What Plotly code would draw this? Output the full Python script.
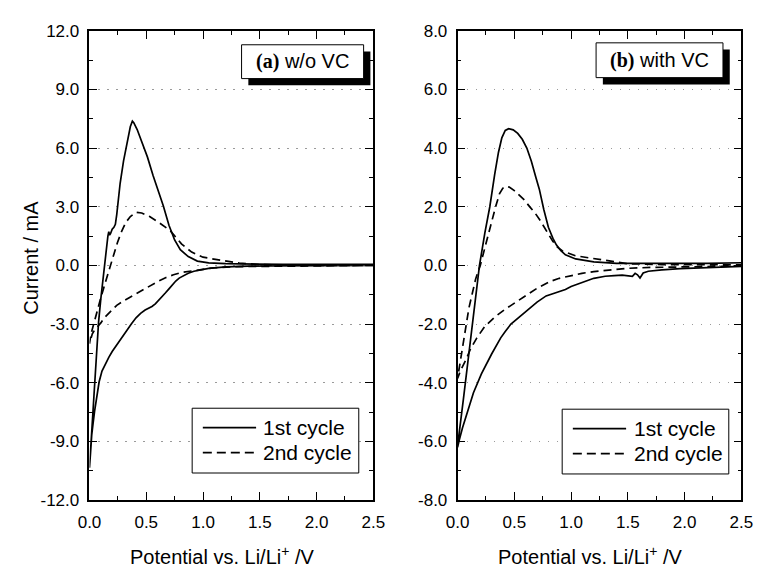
import plotly.graph_objects as go

# ---------------- data ----------------
# Panel (a) w/o VC, 1st cycle: cathodic sweep 2.5 -> 0 V, then anodic 0 -> 2.5 V
A1_CATH_X = [2.5, 2.2, 1.9, 1.6, 1.4, 1.2, 1.05, 0.98, 0.92, 0.87, 0.83, 0.79, 0.76, 0.73, 0.7,
             0.67, 0.64, 0.61, 0.58, 0.55, 0.52, 0.49, 0.45, 0.41, 0.37, 0.33, 0.29, 0.24, 0.2,
             0.17, 0.14, 0.11, 0.085, 0.065, 0.045, 0.03, 0.02, 0.009, 0.002]
A1_CATH_Y = [0.0, 0.0, -0.01, -0.02, -0.04, -0.08, -0.15, -0.22, -0.3, -0.4, -0.52, -0.65, -0.8,
             -0.98, -1.2, -1.4, -1.6, -1.8, -1.97, -2.1, -2.18, -2.28, -2.45, -2.68, -2.98, -3.3,
             -3.62, -4.02, -4.4, -4.7, -5.05, -5.4, -5.95, -6.6, -7.45, -8.15, -8.65, -9.6, -10.35]
A1_AN_X = [0.0, 0.02, 0.04, 0.06, 0.08, 0.1, 0.125, 0.145, 0.162, 0.17, 0.177, 0.185, 0.2, 0.215,
           0.228, 0.24, 0.255, 0.27, 0.3, 0.33, 0.36, 0.378, 0.39, 0.42, 0.46, 0.51, 0.56, 0.6,
           0.65, 0.7, 0.75, 0.8, 0.87, 0.95, 1.05, 1.2, 1.4, 1.7, 2.0, 2.5]
A1_AN_Y = [-10.35, -8.5, -6.6, -4.75, -2.9, -1.7, -0.3, 0.75, 1.5, 1.72, 1.55, 1.62, 1.85, 1.95,
           2.1, 2.6, 3.4, 4.2, 5.35, 6.3, 7.1, 7.38, 7.3, 6.95, 6.3, 5.55, 4.6, 3.95, 3.05, 2.05,
           1.3, 0.8, 0.45, 0.22, 0.13, 0.09, 0.07, 0.05, 0.05, 0.06]

# Panel (a) w/o VC, 2nd cycle
A2_CATH_X = [2.5, 2.0, 1.6, 1.32, 1.1, 0.9, 0.81, 0.74, 0.67, 0.6, 0.53, 0.45, 0.38, 0.31, 0.24,
             0.17, 0.13, 0.1, 0.07, 0.045, 0.025, 0.01, 0.0]
A2_CATH_Y = [0.0, -0.01, -0.03, -0.06, -0.12, -0.26, -0.36, -0.48, -0.63, -0.83, -1.05, -1.3,
             -1.54, -1.78, -2.04, -2.42, -2.68, -2.94, -3.12, -3.3, -3.5, -3.75, -4.0]
A2_AN_X = [0.0, 0.014, 0.04, 0.071, 0.1, 0.128, 0.155, 0.185, 0.215, 0.245, 0.28, 0.32, 0.36, 0.41,
           0.46, 0.53, 0.61, 0.71, 0.77, 0.81, 0.9, 1.0, 1.15, 1.32, 1.5, 1.8, 2.5]
A2_AN_Y = [-4.0, -3.5, -2.9, -2.3, -1.65, -1.1, -0.55, 0.0, 0.6, 1.15, 1.7, 2.2, 2.5, 2.72, 2.68,
           2.5, 2.2, 1.78, 1.38, 1.1, 0.68, 0.42, 0.27, 0.12, 0.04, 0.01, 0.0]

# Panel (b) with VC, 1st cycle
B1_CATH_X = [2.5, 2.2, 1.96, 1.8, 1.68, 1.635, 1.62, 1.607, 1.585, 1.564, 1.54, 1.5, 1.45, 1.38,
             1.3, 1.2, 1.1, 1.0, 0.95, 0.87, 0.78, 0.7, 0.64, 0.58, 0.53, 0.47, 0.42, 0.38, 0.3,
             0.21, 0.14, 0.085, 0.043, 0.015, 0.0]
B1_CATH_Y = [-0.03, -0.07, -0.11, -0.15, -0.2, -0.26, -0.33, -0.43, -0.32, -0.27, -0.37, -0.36,
             -0.33, -0.35, -0.37, -0.44, -0.57, -0.72, -0.82, -0.93, -1.04, -1.25, -1.45, -1.65,
             -1.82, -2.0, -2.25, -2.47, -3.02, -3.7, -4.34, -4.99, -5.54, -5.95, -6.2]
B1_AN_X = [0.0, 0.05, 0.1, 0.15, 0.193, 0.24, 0.284, 0.327, 0.36, 0.39, 0.42, 0.45, 0.49, 0.53,
           0.57, 0.61, 0.65, 0.69, 0.72, 0.76, 0.8, 0.84, 0.87, 0.91, 0.95, 1.04, 1.2, 1.4, 1.8,
           2.2, 2.5]
B1_AN_Y = [-6.15, -4.6, -3.0, -1.4, 0.0, 1.1, 2.0, 3.1, 3.85, 4.35, 4.6, 4.66, 4.62, 4.5, 4.3,
           4.0, 3.55, 3.0, 2.6, 1.9, 1.3, 0.92, 0.7, 0.5, 0.36, 0.22, 0.12, 0.07, 0.06, 0.07, 0.09]

# Panel (b) with VC, 2nd cycle
B2_CATH_X = [2.5, 2.0, 1.7, 1.49, 1.32, 1.2, 1.095, 1.0, 0.896, 0.82, 0.754, 0.7, 0.64, 0.58,
             0.526, 0.47, 0.41, 0.33, 0.24, 0.17, 0.114, 0.071, 0.028, 0.0]
B2_CATH_Y = [-0.02, -0.04, -0.07, -0.1, -0.16, -0.21, -0.27, -0.34, -0.44, -0.54, -0.66, -0.78,
             -0.93, -1.08, -1.22, -1.36, -1.52, -1.75, -2.08, -2.47, -2.85, -3.24, -3.57, -3.85]
B2_AN_X = [0.0, 0.015, 0.043, 0.077, 0.1, 0.13, 0.16, 0.2, 0.24, 0.28, 0.335, 0.37, 0.398, 0.43,
           0.455, 0.5, 0.53, 0.583, 0.64, 0.68, 0.725, 0.782, 0.839, 0.88, 0.924, 1.038, 1.18,
           1.32, 1.49, 1.8, 2.5]
B2_AN_Y = [-3.85, -3.5, -2.8, -1.9, -1.45, -0.95, -0.45, 0.0, 0.6, 1.25, 2.0, 2.45, 2.63, 2.7,
           2.67, 2.55, 2.45, 2.25, 1.98, 1.8, 1.55, 1.2, 0.82, 0.62, 0.49, 0.33, 0.24, 0.16, 0.06,
           0.03, 0.02]

SERIES_NAMES = ["1st cycle", "2nd cycle"]
PANEL_LABELS = [("(a)", " w/o VC"), ("(b)", " with VC")]
X_TICKS = [0.0, 0.5, 1.0, 1.5, 2.0, 2.5]
YA_TICKS = [-12.0, -9.0, -6.0, -3.0, 0.0, 3.0, 6.0, 9.0, 12.0]
YB_TICKS = [-8.0, -6.0, -4.0, -2.0, 0.0, 2.0, 4.0, 6.0, 8.0]
X_TITLE = "Potential vs. Li/Li<sup>+</sup> /V"
Y_TITLE = "Current / mA"

# ---------------- layout helpers ----------------
W, H = 765, 570
SANS = "Liberation Sans, Arial, sans-serif"
DASH = "8px,5px"


def fx(px):
    return px / W


def fy(py):
    return 1 - py / H


def fmt(vals):
    return [f"{v:.1f}" for v in vals]


fig = go.Figure()

panels = [
    ("x", "y", A1_CATH_X + A1_AN_X, A1_CATH_Y + A1_AN_Y, A2_CATH_X + A2_AN_X, A2_CATH_Y + A2_AN_Y),
    ("x2", "y2", B1_CATH_X + B1_AN_X, B1_CATH_Y + B1_AN_Y, B2_CATH_X + B2_AN_X, B2_CATH_Y + B2_AN_Y),
]
for xa, ya, x1, y1, x2, y2 in panels:
    fig.add_trace(go.Scatter(x=x1, y=y1, mode="lines", name=SERIES_NAMES[0], xaxis=xa, yaxis=ya,
                             line=dict(color="black", width=1.7), showlegend=False))
    fig.add_trace(go.Scatter(x=x2, y=y2, mode="lines", name=SERIES_NAMES[1], xaxis=xa, yaxis=ya,
                             line=dict(color="black", width=1.7, dash=DASH), showlegend=False))


def xaxis(domain):
    return dict(domain=domain, range=[0, 2.5], tickmode="array", tickvals=X_TICKS,
                ticktext=fmt(X_TICKS), showline=True, linewidth=1.7, linecolor="black",
                mirror="ticks", ticks="inside", ticklen=8, tickwidth=1.4, tickcolor="black",
                ticklabelstandoff=6,
                showgrid=False, zeroline=False, tickfont=dict(family=SANS, size=17, color="black"),
                minor=dict(tickmode="linear", tick0=0, dtick=0.25, ticks="inside", ticklen=4,
                           tickwidth=1.4, tickcolor="black", showgrid=False))


def yaxis(domain, rng, ticks, minor, anchor):
    return dict(domain=domain, range=rng, anchor=anchor, tickmode="array", tickvals=ticks,
                ticktext=fmt(ticks), showline=True, linewidth=1.7, linecolor="black",
                mirror="ticks", ticks="inside", ticklen=8, tickwidth=1.4, tickcolor="black",
                ticklabelstandoff=5,
                showgrid=True, gridcolor="#9a9a9a", gridwidth=1.3, griddash="1.5px,7.5px",
                zeroline=False, tickfont=dict(family=SANS, size=17, color="black"),
                minor=dict(tickmode="linear", tick0=0, dtick=minor, ticks="inside", ticklen=4,
                           tickwidth=1.4, tickcolor="black", showgrid=False))


ydom = [fy(508), fy(22.5)]
fig.update_layout(
    width=W, height=H, autosize=False,
    margin=dict(l=0, r=0, t=0, b=0),
    paper_bgcolor="white", plot_bgcolor="white",
    xaxis=xaxis([fx(80), fx(373)]) | dict(anchor="y"),
    xaxis2=xaxis([fx(460), fx(753)]) | dict(anchor="y2"),
    yaxis=yaxis(ydom, [-12, 12], YA_TICKS, 1.5, "x"),
    yaxis2=yaxis(ydom, [-8, 8], YB_TICKS, 1.0, "x2"),
    showlegend=False,
    font=dict(family=SANS, color="black"),
)

shapes = []
annotations = []

# panel label boxes with drop shadow
label_boxes = [(237, 37, 363, 72), (603, 35, 734, 71)]
for (x0, y0, x1, y1), (lab, txt) in zip(label_boxes, PANEL_LABELS):
    shapes.append(dict(type="rect", xref="paper", yref="paper", x0=fx(x0 + 7), x1=fx(x1 + 7),
                       y0=fy(y1 + 7), y1=fy(y0 + 7), fillcolor="black", line=dict(width=0),
                       layer="above"))
    shapes.append(dict(type="rect", xref="paper", yref="paper", x0=fx(x0), x1=fx(x1),
                       y0=fy(y1), y1=fy(y0), fillcolor="white",
                       line=dict(color="black", width=1), layer="above"))
    annotations.append(dict(
        xref="paper", yref="paper", x=fx((x0 + x1) / 2), y=fy((y0 + y1) / 2),
        xanchor="center", yanchor="middle", showarrow=False,
        text=f"<b><span style=\"font-family:'Liberation Serif',serif\">{lab}</span></b>{txt}",
        font=dict(family=SANS, size=20, color="black")))

# legend boxes
legend_boxes = [(186, 413, 358, 480, 197, 252, 257), (568, 414, 740, 481, 579, 634, 640)]
for bx0, by0, bx1, by1, lx0, lx1, tx in legend_boxes:
    shapes.append(dict(type="rect", xref="paper", yref="paper", x0=fx(bx0), x1=fx(bx1),
                       y0=fy(by1), y1=fy(by0), fillcolor="white",
                       line=dict(color="black", width=1), layer="above"))
    for i, (ly, dash) in enumerate([(by0 + 20, "solid"), (by0 + 46, "9px,5px")]):
        shapes.append(dict(type="line", xref="paper", yref="paper", x0=fx(lx0), x1=fx(lx1),
                           y0=fy(ly), y1=fy(ly), line=dict(color="black", width=1.7, dash=dash),
                           layer="above"))
        annotations.append(dict(xref="paper", yref="paper", x=fx(tx), y=fy(ly), xanchor="left",
                                yanchor="middle", showarrow=False, text=SERIES_NAMES[i],
                                font=dict(family=SANS, size=21, color="black")))

# axis titles
annotations.append(dict(xref="paper", yref="paper", x=fx(20), y=fy(257), textangle=-90,
                        xanchor="center", yanchor="middle", showarrow=False, text=Y_TITLE,
                        font=dict(family=SANS, size=20, color="black")))
for cx in (217.5, 597):
    annotations.append(dict(xref="paper", yref="paper", x=fx(cx), y=fy(565), xanchor="center",
                            yanchor="middle", showarrow=False, text=X_TITLE,
                            font=dict(family=SANS, size=20, color="black")))

fig.update_layout(shapes=shapes, annotations=annotations)
fig.write_html("out.html")
